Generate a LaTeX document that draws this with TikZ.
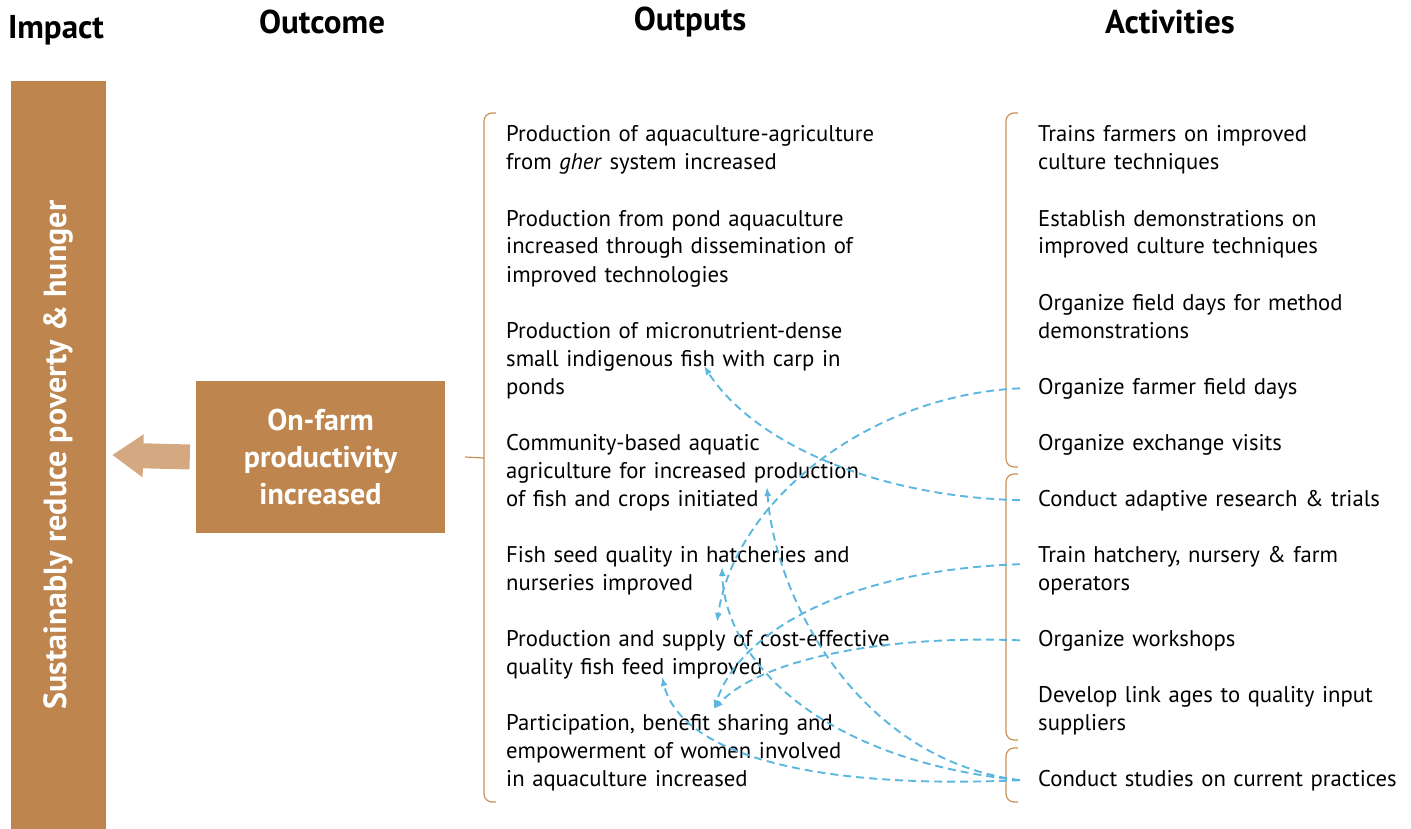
\documentclass[tikz,border=0pt]{standalone}
\usepackage{fontspec}
\setmainfont{PT Sans}
\usetikzlibrary{arrows.meta}
\definecolor{boxbrown}{RGB}{190,134,78}
\definecolor{arrowtan}{RGB}{212,168,129}
\definecolor{bracebrown}{RGB}{200,145,90}
\definecolor{linkblue}{RGB}{91,183,222}
\tikzset{
  heading/.style={font=\fontsize{33}{38}\selectfont\bfseries, inner sep=0},
  output/.style={anchor=base west, inner sep=0, text width=420pt, align=left, font=\fontsize{22.7}{28}\selectfont},
  activity/.style={output, text width=370pt},
  brace/.style={bracebrown, line width=1.2pt, rounded corners=8pt},
  link/.style={linkblue, line width=1.9pt, dash pattern=on 8pt off 5pt, -{Latex[length=9pt,width=7pt]}},
}

\begin{document}
\begin{tikzpicture}[x=1pt,y=-1pt]
	\useasboundingbox (0,0) rectangle (1411,829);

	% headings
	\node[heading] (hImpact) at (56,30) {Impact};
	\node[heading] (hOutcome) at (322,22) {Outcome};
	\node[heading] (hOutputs) at (690,22) {Outputs};
	\node[heading] (hActivities) at (1170,22) {Activities};

	% impact and outcome
	\node[fill=boxbrown, rotate=90, minimum width=748pt, minimum height=95pt, inner sep=0, text=white, font=\fontsize{32}{36}\selectfont\bfseries] (impact) at (58.5,455) {Sustainably reduce poverty \& hunger};
	\node[fill=boxbrown, minimum width=249pt, minimum height=152pt, inner sep=0, text=white, align=center, font=\fontsize{30}{37}\selectfont\bfseries] (outcome) at (320.5,457) {On-farm\\productivity\\increased};
	\draw[arrowtan, line width=25pt, -{Triangle[length=31pt,width=41pt]}] ([xshift=-6pt]outcome.west) -- ([xshift=6pt]impact.south);

	% brackets
	\draw[brace] ([xshift=20pt]outcome.east) -- (484,458);
	\draw[brace] (496,113) -- (484,113) -- (484,802) -- (496,802);
	\draw[brace] (1018,113) -- (1006,113) -- (1006,467) -- (1018,467);
	\draw[brace] (1018,474) -- (1006,474) -- (1006,740) -- (1018,740);
	\draw[brace] (1018,748) -- (1006,748) -- (1006,802) -- (1018,802);

	% outputs
	\node[output] (o1) at (506,142) {Production of aquaculture-agriculture\\from \textit{gher} system increased};
	\node[output] (o2) at (506,226) {Production from pond aquaculture\\increased through dissemination of\\improved technologies};
	\node[output] (o3) at (506,338) {Production of micronutrient-dense\\small indigenous fish with carp in\\ponds};
	\node[output] (o4) at (506,450) {Community-based aquatic\\agriculture for increased production\\of fish and crops initiated};
	\node[output] (o5) at (506,562) {Fish seed quality in hatcheries and\\nurseries improved};
	\node[output] (o6) at (506,646) {Production and supply of cost-effective\\quality fish feed improved};
	\node[output] (o7) at (506,730) {Participation, benefit sharing and\\empowerment of women involved\\in aquaculture increased};

	% activities
	\node[activity] (a1) at (1038,142) {Trains farmers on improved\\culture techniques};
	\node[activity] (a2) at (1038,226) {Establish demonstrations on\\improved culture techniques};
	\node[activity] (a3) at (1038,310) {Organize field days for method\\demonstrations};
	\node[activity] (a4) at (1038,394) {Organize farmer field days};
	\node[activity] (a5) at (1038,450) {Organize exchange visits};
	\node[activity] (a6) at (1038,506) {Conduct adaptive research \& trials};
	\node[activity] (a7) at (1038,562) {Train hatchery, nursery \& farm\\operators};
	\node[activity] (a8) at (1038,646) {Organize workshops};
	\node[activity] (a9) at (1038,702) {Develop link ages to quality input\\suppliers};
	\node[activity] (a10) at (1038,786) {Conduct studies on current practices};

	% links
	\coordinate (tMicro) at (704,366);
	\coordinate (tCommunity) at (767,487);
	\coordinate (tSeed) at (722,567);
	\coordinate (tFeedA) at (717,622);
	\coordinate (tFeedB) at (662,677);
	\coordinate (tWomen) at (714,709);
	\draw[link] ([xshift=-18pt]a4.west) .. controls (870,395) and (735,500) .. (tFeedA);
	\draw[link] ([xshift=-18pt]a6.west) .. controls (880,497) and (755,445) .. (tMicro);
	\draw[link] ([xshift=-18pt,yshift=6pt]a7.west) .. controls (850,570) and (740,630) .. (tWomen);
	\draw[link] ([xshift=-18pt]a8.west) .. controls (880,635) and (760,660) .. (tWomen);
	\draw[link] ([xshift=-18pt]a10.west) .. controls (860,760) and (775,600) .. (tCommunity);
	\draw[link] ([xshift=-18pt]a10.west) .. controls (820,760) and (725,660) .. (tSeed);
	\draw[link] ([xshift=-18pt]a10.west) .. controls (800,790) and (680,750) .. (tFeedB);
\end{tikzpicture}
\end{document}
